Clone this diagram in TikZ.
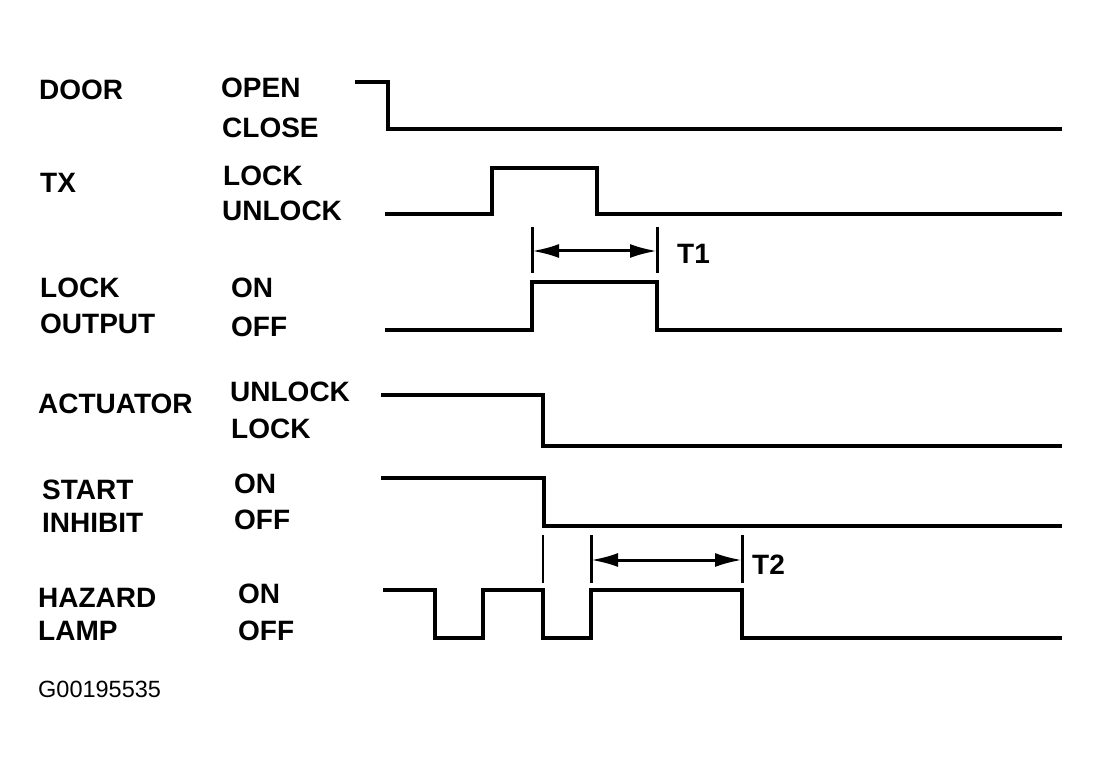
\documentclass[tikz,border=0pt]{standalone}
\usepackage{fontspec}
\setmainfont{Liberation Sans}
\usetikzlibrary{arrows.meta}
\begin{document}
\begin{tikzpicture}[x=1pt,y=-1pt,
  lbl/.style={anchor=base west,inner sep=0pt,font=\fontsize{28}{30}\selectfont\bfseries},
  code/.style={anchor=base west,inner sep=0pt,font=\fontsize{23.5}{26}\selectfont},
  wave/.style={line width=4pt,line join=miter,line cap=rect},
  ticky/.style={line width=3pt},
  thintick/.style={line width=2pt},
  dimarrow/.style={line width=3pt,{Latex[length=27pt,width=14pt]}-{Latex[length=27pt,width=14pt]}}]
\useasboundingbox[fill=white] (0,0) rectangle (1101,770);
% left labels
\node[lbl] (door) at (39,100) {DOOR};
\node[lbl] (tx) at (40,193) {TX};
\node[lbl] (lock) at (40,298) {LOCK};
\node[lbl] (output) at (40,334) {OUTPUT};
\node[lbl] (actuator) at (38,413) {ACTUATOR};
\node[lbl] (start) at (42,499) {START};
\node[lbl] (inhibit) at (42,532) {INHIBIT};
\node[lbl] (hazard) at (38,607) {HAZARD};
\node[lbl] (lamp) at (38,640) {LAMP};
\node[code] (gcode) at (38,697) {G00195535};
% state labels
\node[lbl] (open) at (221,98) {OPEN};
\node[lbl] (close) at (222,138) {CLOSE};
\node[lbl] (txlock) at (223,186) {LOCK};
\node[lbl] (txunlock) at (222,221) {UNLOCK};
\node[lbl] (lon) at (231,298) {ON};
\node[lbl] (loff) at (231,336) {OFF};
\node[lbl] (aunlock) at (230,401) {UNLOCK};
\node[lbl] (alock) at (231,438) {LOCK};
\node[lbl] (son) at (234,493) {ON};
\node[lbl] (soff) at (234,529) {OFF};
\node[lbl] (hon) at (238,603) {ON};
\node[lbl] (hoff) at (238,640) {OFF};
% waveforms
\draw[wave] (357,82) -- (388,82) -- (388,129) -- (1060,129);
\draw[wave] (387,214) -- (492,214) -- (492,168) -- (597,168) -- (597,214) -- (1060,214);
\draw[wave] (387,330) -- (532,330) -- (532,282) -- (657,282) -- (657,330) -- (1060,330);
\draw[wave] (383,395) -- (543,395) -- (543,446) -- (1060,446);
\draw[wave] (383,478) -- (544,478) -- (544,526) -- (1060,526);
\draw[wave] (385,590) -- (435,590) -- (435,638) -- (483,638) -- (483,590) -- (543,590)
  -- (543,638) -- (591,638) -- (591,590) -- (742,590) -- (742,638) -- (1060,638);
% T1
\coordinate (t1a) at (532,227); \coordinate (t1b) at (532,273);
\coordinate (t1c) at (657,227); \coordinate (t1d) at (657,273);
\coordinate (t1l) at (532,251); \coordinate (t1r) at (657,251);
\draw[ticky] (t1a) -- (t1b);
\draw[ticky] (t1c) -- (t1d);
\draw[dimarrow] (t1l) -- (t1r);
\node[lbl] (t1) at (677,264) {T1};
% T2
\coordinate (t2s) at (543,535); \coordinate (t2t) at (543,583);
\coordinate (t2a) at (591,535); \coordinate (t2b) at (591,583);
\coordinate (t2c) at (742,535); \coordinate (t2d) at (742,583);
\coordinate (t2l) at (591,560); \coordinate (t2r) at (742,560);
\draw[thintick] (t2s) -- (t2t);
\draw[ticky] (t2a) -- (t2b);
\draw[ticky] (t2c) -- (t2d);
\draw[dimarrow] (t2l) -- (t2r);
\node[lbl] (t2) at (752,574) {T2};
\end{tikzpicture}
\end{document}
